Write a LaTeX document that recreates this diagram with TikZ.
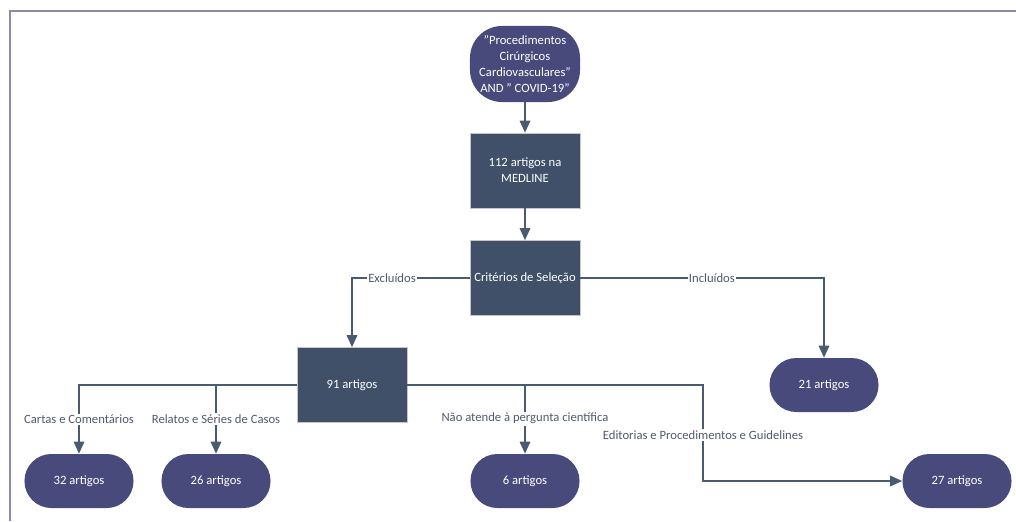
\documentclass[tikz,border=0pt]{standalone}
\usepackage{fontspec}
\setmainfont{Carlito}
\usetikzlibrary{arrows.meta, positioning}
\definecolor{caixa}{HTML}{3F5068}
\definecolor{pilula}{HTML}{474A7A}
\definecolor{linha}{HTML}{4A5A70}
\definecolor{texto}{HTML}{505A6E}
\definecolor{moldura}{HTML}{8C8CAA}

\begin{document}
\begin{tikzpicture}[x=0.025cm, y=-0.025cm,
    base/.style={text=white, align=center, inner sep=2pt, font={\fontsize{9}{11.4}\selectfont}},
    caixa/.style={base, draw=gray!45, fill=caixa, minimum width=2.75cm, minimum height=1.875cm},
    pilula/.style={base, fill=pilula, rounded corners=0.67cm, minimum width=2.725cm, minimum height=1.35cm},
    seta/.style={draw=linha, line width=1.3pt, -{Triangle[length=3mm, width=2.6mm]}},
    rotulo/.style={fill=white, text=texto, inner sep=1pt, font={\fontsize{9}{11}\selectfont}}]
    \useasboundingbox (0,0) rectangle (1016,521);
    \draw[moldura, line width=1.2pt] (10,521) -- (10,11) -- (1016,11);

    % fluxo principal
    \node[base, fill=pilula, rounded corners=0.8cm, minimum width=2.75cm, minimum height=1.9cm]
      (busca) at (525,64) {"Procedimentos\\Cirúrgicos\\Cardiovasculares"\\AND " COVID-19"};
    \node[caixa] (medline) at (525,170.5) {112 artigos na\\MEDLINE};
    \node[caixa] (criterios) at (525,278) {Critérios de Seleção};
    \node[caixa] (excluidos) at (352,385) {91 artigos};
    \node[pilula] (n21) at (824,385) {21 artigos};
    \foreach \nome/\pos/\num in {n32/79/32, n26/216/26, n6/525/6, n27/957/27}
      \node[pilula] (\nome) at (\pos,481) {\num{} artigos};
    \coordinate (quebra) at (703,385);

    \draw[seta] (busca) -- (medline);
    \draw[seta] (medline) -- (criterios);
    \draw[seta] (criterios.west) -| node[rotulo, pos=0.33] {Excluídos} (excluidos);
    \draw[seta] (criterios.east) -| node[rotulo, pos=0.27] {Incluídos} (n21);

    % motivos de exclusao
    \draw[seta] (excluidos.west) -| node[rotulo, pos=0.75] {Cartas e Comentários} (n32);
    \draw[seta] (excluidos.west -| n26) -- node[rotulo, pos=0.49] {Relatos e Séries de Casos} (n26);
    \draw[seta] (excluidos.east -| n6) -- node[rotulo, pos=0.49] {Não atende à pergunta científica} (n6);
    \draw[seta] (excluidos.east) -- (quebra) |- node[rotulo, pos=0.26] {Editorias e Procedimentos e Guidelines} (n27);
\end{tikzpicture}
\end{document}
